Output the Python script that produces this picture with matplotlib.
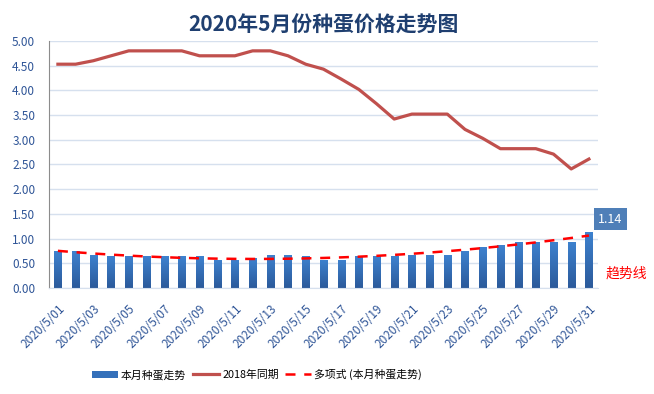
import numpy as np
import matplotlib.pyplot as plt
from matplotlib.colors import LinearSegmentedColormap

plt.rcParams['font.family'] = ['Noto Sans CJK SC', 'DejaVu Sans']

# 日期与价格数据
dates = ['2020/5/%02d' % d for d in range(1, 32)]
price_2020 = [0.74, 0.74, 0.67, 0.64, 0.64, 0.64, 0.64, 0.64, 0.64, 0.57,
              0.57, 0.60, 0.67, 0.67, 0.64, 0.57, 0.57, 0.64, 0.64, 0.64,
              0.67, 0.67, 0.67, 0.75, 0.84, 0.88, 0.94, 0.94, 0.94, 0.94,
              1.14]
price_2018 = [4.53, 4.53, 4.60, 4.70, 4.80, 4.80, 4.80, 4.80, 4.70, 4.70,
              4.70, 4.80, 4.80, 4.70, 4.53, 4.43, 4.23, 4.02, 3.73, 3.42,
              3.52, 3.52, 3.52, 3.21, 3.03, 2.82, 2.82, 2.82, 2.71, 2.41,
              2.61]

x = np.arange(len(dates))
# 多项式趋势线（同Excel的二阶多项式）
coef = np.polyfit(x, price_2020, 2)
trend = np.polyval(coef, x)

fig = plt.figure(figsize=(6.54, 3.94), dpi=100)
ax = fig.add_axes([0.075, 0.269, 0.839, 0.627])

bars = ax.bar(x, price_2020, width=0.4, color='#3470BA', zorder=2,
              label='本月种蛋走势')
# 柱子渐变色
cmap = LinearSegmentedColormap.from_list('g', ['#2B5A9B', '#3E82CF'])
grad = np.linspace(0, 1, 64).reshape(-1, 1)
for b in bars:
    bx, by = b.get_x(), b.get_y()
    im = ax.imshow(grad, cmap=cmap, aspect='auto', origin='lower',
                   extent=[bx, bx + b.get_width(), by, by + b.get_height()],
                   zorder=2.1)
    im.set_clip_path(b)
ax.plot(x, price_2018, color='#C0504D', lw=2.3, zorder=3, label='2018年同期')
ax.plot(x, trend, color='#FF0000', lw=1.8, ls=(0, (4, 3.5)), zorder=4,
        label='多项式 (本月种蛋走势)')

ax.set_xlim(-0.5, 30.5)
ax.set_ylim(0, 5)
ax.set_yticks(np.arange(0, 5.01, 0.5))
ax.set_yticklabels(['%.2f' % v for v in np.arange(0, 5.01, 0.5)])
ax.set_xticks(x[::2])
ax.set_xticklabels(dates[::2], rotation=45, ha='right', rotation_mode='anchor')
ax.tick_params(axis='both', length=0, labelsize=8.5, labelcolor='#2F5597')
ax.tick_params(axis='x', pad=10)
ax.tick_params(axis='y', pad=10)
ax.grid(axis='y', color='#D6E0EE', lw=1, zorder=0)
for s in ['top', 'right']:
    ax.spines[s].set_visible(False)
ax.spines['left'].set_color('#8C8C8C')
ax.spines['bottom'].set_color('#D6E0EE')

ax.set_title('2020年5月份种蛋价格走势图', fontsize=15, fontweight='bold',
             color='#1F3F70', pad=7)

# 最后一天的数据标签
ax.text(x[-1] + 1.2, price_2020[-1] + 0.25, '%.2f' % price_2020[-1],
        fontsize=9, color='white', ha='center', va='center',
        bbox=dict(boxstyle='square,pad=0.35', fc='#4F7FB8', ec='none'),
        zorder=5, clip_on=False)
ax.text(1.015, 0.06, '趋势线', transform=ax.transAxes, color='#FF0000',
        fontsize=10, ha='left', va='center')

h, l = ax.get_legend_handles_labels()
order = [2, 0, 1]
fig.legend([h[i] for i in order], [l[i] for i in order],
           loc='lower center', bbox_to_anchor=(0.393, 0.01), ncol=3,
           frameon=False, fontsize=7.8, handlelength=2.4, columnspacing=0.6,
           handletextpad=0.3)

fig.savefig('out.png', dpi=100)
